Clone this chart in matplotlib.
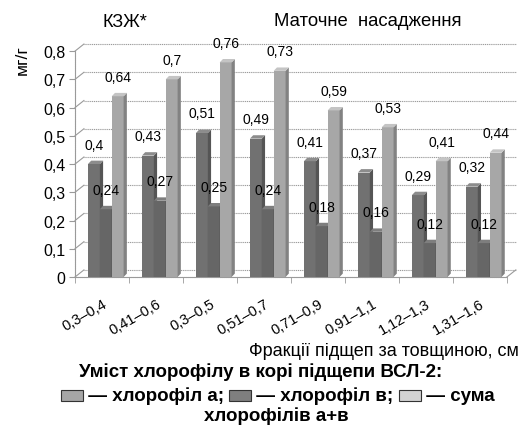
import matplotlib
matplotlib.use('Agg')
import matplotlib.pyplot as plt
from matplotlib.patches import Polygon, Rectangle
from matplotlib.offsetbox import HPacker, TextArea, DrawingArea, AnchoredOffsetbox
import numpy as np

plt.rcParams['font.family'] = ['Liberation Sans', 'DejaVu Sans']

categories = ['0,3–0,4', '0,41–0,6', '0,3–0,5', '0,51–0,7',
              '0,71–0,9', '0,91–1,1', '1,12–1,3', '1,31–1,6']
chl_a = [0.40, 0.43, 0.51, 0.49, 0.41, 0.37, 0.29, 0.32]
chl_b = [0.24, 0.27, 0.25, 0.24, 0.18, 0.16, 0.12, 0.12]
chl_sum = [0.64, 0.70, 0.76, 0.73, 0.59, 0.53, 0.41, 0.44]
yticks = [0, 0.1, 0.2, 0.3, 0.4, 0.5, 0.6, 0.7, 0.8]

series = [
    (chl_a, -0.15, ('#717171', '#555555', '#8c8c8c')),
    (chl_b, 0.07, ('#666666', '#4e4e4e', '#7e7e7e')),
    (chl_sum, 0.29, ('#a7a7a7', '#828282', '#c4c4c4')),
]
w = 0.22
dx, dy = 0.06, 0.012      # depth of bars
wx, wy = 0.165, 0.025     # depth of back wall
grid_col = '#9a9a9a'

fig = plt.figure(figsize=(5.21, 4.27), dpi=100)
ax = fig.add_axes([0.144, 0.349, 0.829, 0.529])
x = np.arange(len(categories))
ax.set_xlim(-0.5, len(categories) - 0.5)
ax.set_ylim(0, 0.8)

# back wall grid
x0, x1 = -0.5, len(categories) - 0.5
for t in yticks:
    ax.plot([x0 + wx, x1 + wx], [t + wy, t + wy], color=grid_col, lw=0.8,
            ls=(0, (1, 0.7)), clip_on=False, zorder=1)
    ax.plot([x0, x0 + wx], [t, t + wy], color=grid_col, lw=0.8,
            clip_on=False, zorder=1)
ax.plot([x1, x1 + wx], [0, wy], color=grid_col, lw=0.8, clip_on=False, zorder=1)

for k, (vals, off, (cf, cs, ct)) in enumerate(series):
    xs = x + off
    z = 3 + k
    ax.bar(xs, vals, w, color=cf, zorder=z, linewidth=0)
    for xi, v in zip(xs, vals):
        l, r = xi - w / 2, xi + w / 2
        ax.add_patch(Polygon([(r, 0), (r + dx, dy), (r + dx, v + dy), (r, v)],
                             closed=True, fc=cs, lw=0, zorder=z))
        ax.add_patch(Polygon([(l, v), (l + dx, v + dy), (r + dx, v + dy), (r, v)],
                             closed=True, fc=ct, lw=0, zorder=z))
        ax.annotate(f'{v:g}'.replace('.', ','), (xi, v), xytext=(0, 9),
                    textcoords='offset points', ha='center', va='bottom',
                    fontsize=10, zorder=10)

for s in ['top', 'right']:
    ax.spines[s].set_visible(False)
for s in ['left', 'bottom']:
    ax.spines[s].set_color(grid_col)
    ax.spines[s].set_linestyle((0, (1, 0.7)))
ax.set_yticks(yticks)
ax.set_yticklabels([f'{t:g}'.replace('.', ',') for t in yticks], fontsize=11.5)
ax.tick_params(axis='y', length=4, color=grid_col, pad=3)
ax.set_xticks(x)
ax.set_xticklabels(categories, rotation=30, ha='right', rotation_mode='anchor',
                   fontsize=10.5)
ax.tick_params(axis='x', which='major', length=0, pad=14)
ax.set_xticks(np.arange(len(categories) + 1) - 0.5, minor=True)
ax.tick_params(axis='x', which='minor', length=4, color=grid_col)

fig.text(0.24, 0.948, 'КЗЖ*', ha='center', va='center', fontsize=13)
fig.text(0.705, 0.95, 'Маточне  насадження', ha='center', va='center', fontsize=13.3)
fig.text(0.042, 0.86, 'мг/г', rotation=90, ha='center', va='center', fontsize=12.5)
fig.text(0.996, 0.176, 'Фракції підщеп за товщиною, см', ha='right', va='center',
         fontsize=13)
fig.text(0.5, 0.129, 'Уміст хлорофілу в корі підщепи ВСЛ-2:', ha='center',
         va='center', fontsize=13.5, fontweight='bold')
fig.text(0.53, 0.026, 'хлорофілів а+в', ha='center', va='center', fontsize=13.5,
         fontweight='bold')

legend_items = [('#a6a6a6', ' — хлорофіл а; '), ('#7f7f7f', ' — хлорофіл в; '),
                ('#d2d2d2', ' — сума')]
parts = []
for col, txt in legend_items:
    da = DrawingArea(16, 8, 0, 0)
    da.add_artist(Rectangle((0, 0), 16, 8, fc=col, ec='#333333', lw=0.8))
    parts.append(da)
    parts.append(TextArea(txt, textprops=dict(fontsize=13.5, fontweight='bold')))
box = HPacker(children=parts, align='center', pad=0, sep=0)
anch = AnchoredOffsetbox(loc='center', child=box, frameon=False,
                         bbox_to_anchor=(0.533, 0.072),
                         bbox_transform=fig.transFigure, pad=0, borderpad=0)
fig.add_artist(anch)

fig.savefig('out.png', dpi=100)
